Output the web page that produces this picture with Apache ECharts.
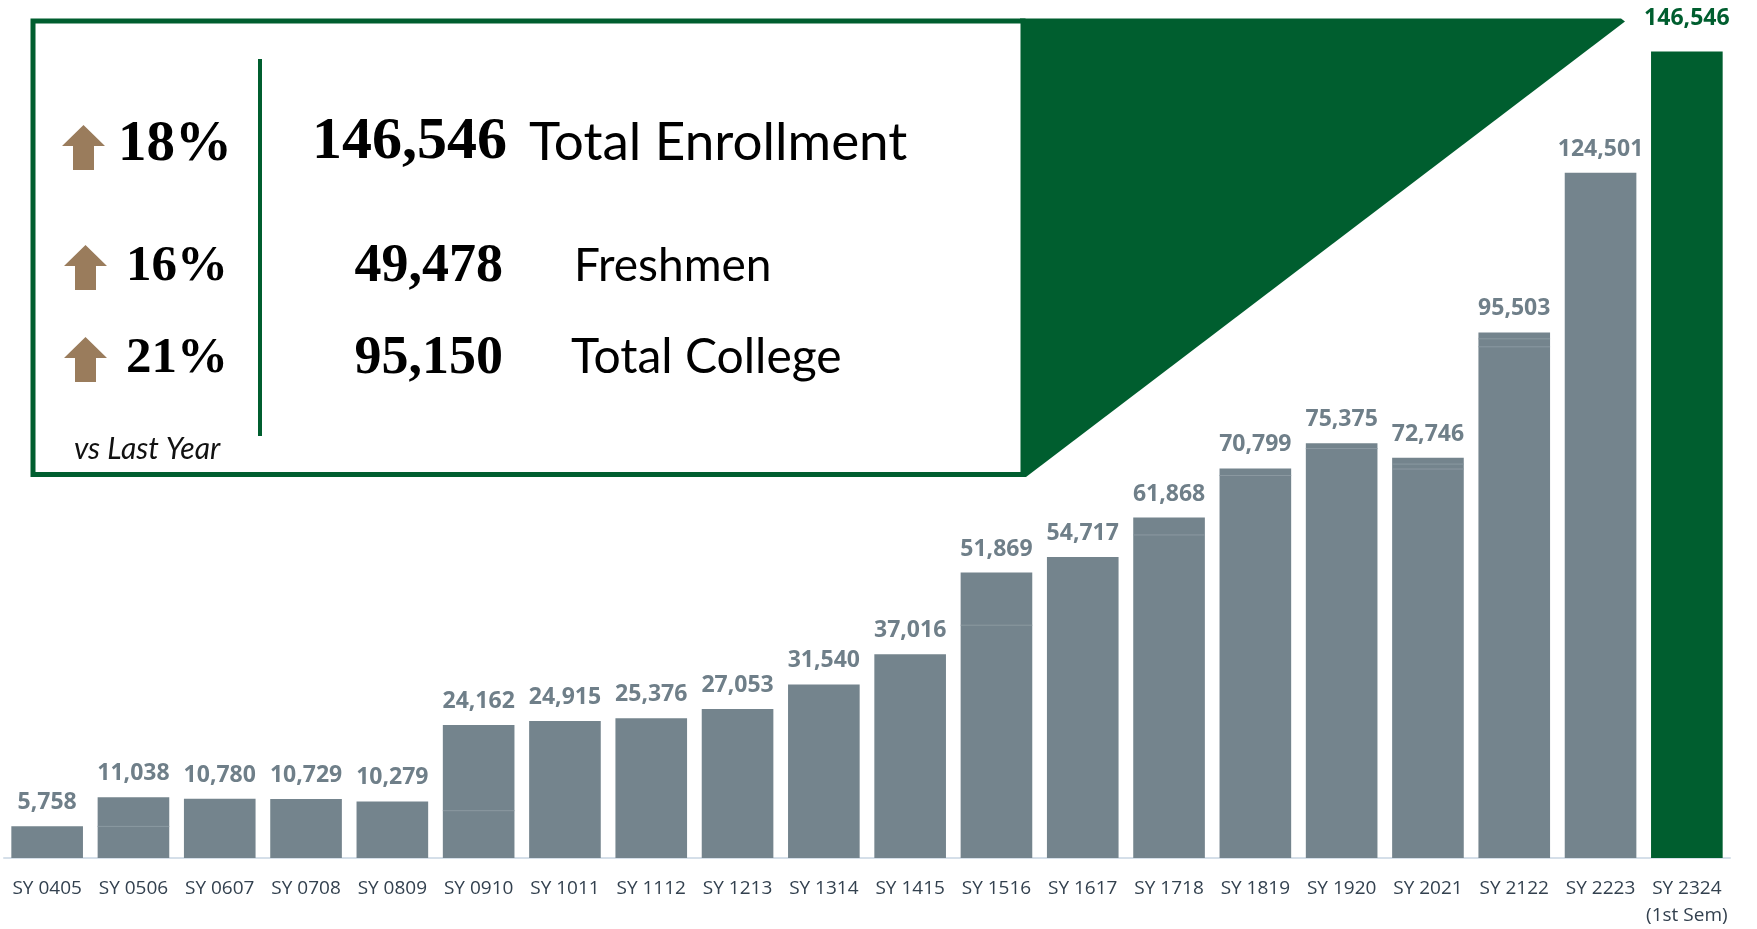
<!DOCTYPE html>
<html>
<head>
<meta charset="utf-8">
<title>Enrollment</title>
<script src="https://cdn.jsdelivr.net/npm/echarts@6/dist/echarts.min.js"></script>
<style>
  html, body { margin: 0; padding: 0; background: #fff; }
  #main { width: 1757px; height: 929px; }
</style>
</head>
<body>
<div id="main"></div>
<script>
// school years on the x axis
var years = ['SY 0405', 'SY 0506', 'SY 0607', 'SY 0708', 'SY 0809', 'SY 0910', 'SY 1011',
  'SY 1112', 'SY 1213', 'SY 1314', 'SY 1415', 'SY 1516', 'SY 1617', 'SY 1718', 'SY 1819',
  'SY 1920', 'SY 2021', 'SY 2122', 'SY 2223', 'SY 2324\n(1st Sem)'];
// total enrollment per year
var enrollment = [5758, 11038, 10780, 10729, 10279, 24162, 24915, 25376, 27053, 31540,
  37016, 51869, 54717, 61868, 70799, 75375, 72746, 95503, 124501, 146546];
// faint segment seams visible inside some bars: [year index, value]
var seams = [[1, 5740], [5, 8600], [11, 42300], [13, 58700], [14, 69500], [15, 74400],
  [16, 71580], [16, 70680], [17, 94340], [17, 92890]];

// summary box
var changePct = ['18%', '16%', '21%'];
var summaryNums = ['146,546', '49,478', '95,150'];
var summaryNames = ['Total Enrollment', 'Freshmen', 'Total College'];
var compareNote = 'vs Last Year';

var GRAY = '#74848d';
var GREEN = '#005e2f';
var BROWN = '#9a7c5c';

var chart = echarts.init(document.getElementById('main'));

// last bar is the current year, highlighted green
var barData = enrollment.map(function (v, i) {
  if (i == enrollment.length - 1) {
    return { value: v, itemStyle: { color: GREEN }, label: { color: GREEN, distance: 22 } };
  }
  return v;
});

// up arrow shape, cx = centre, top = tip y
function arrow(cx, top) {
  var w = 43, h = 45, sw = 21, hh = 21;
  return {
    type: 'polygon',
    shape: {
      points: [
        [cx, top], [cx + w / 2, top + hh], [cx + sw / 2, top + hh], [cx + sw / 2, top + h],
        [cx - sw / 2, top + h], [cx - sw / 2, top + hh], [cx - w / 2, top + hh]
      ]
    },
    style: { fill: BROWN }
  };
}

// row layout inside the box (y = middle of text)
var rows = [
  { y: 142.5, pctY: 145.5, nameY: 142.5, arrowX: 83.5, arrowTop: 125, pctX: 118, numX: 507, nameX: 529,
    pctSize: 57, numSize: 60, nameSize: 53 },
  { y: 267, pctY: 267, nameY: 266, arrowX: 85.5, arrowTop: 245, pctX: 126, numX: 503, nameX: 574,
    pctSize: 51, numSize: 54, nameSize: 46 },
  { y: 359.5, pctY: 359, nameY: 358, arrowX: 85.5, arrowTop: 337, pctX: 126, numX: 503, nameX: 571,
    pctSize: 51, numSize: 54, nameSize: 48 }
];

var graphics = [
  {
    type: 'polygon',
    shape: { points: [[1020, 18.5], [1621, 18.5], [1625, 21.5], [1026, 477], [1020, 477]] },
    style: { fill: GREEN }
  },
  {
    type: 'rect',
    shape: { x: 33, y: 21, width: 990, height: 453.5 },
    style: { fill: '#fff', stroke: GREEN, lineWidth: 5 }
  },
  {
    type: 'line',
    shape: { x1: 260, y1: 59, x2: 260, y2: 436 },
    style: { stroke: GREEN, lineWidth: 4 }
  },
  {
    type: 'text',
    x: 74, y: 449,
    style: {
      text: compareNote, fill: '#111', font: 'italic 30px Lato',
      align: 'left', verticalAlign: 'middle'
    }
  }
];

rows.forEach(function (r, i) {
  graphics.push(arrow(r.arrowX, r.arrowTop));
  graphics.push({
    type: 'text', x: r.pctX, y: r.pctY,
    style: {
      text: changePct[i], fill: '#000',
      font: 'bold ' + r.pctSize + 'px "Liberation Serif"',
      align: 'left', verticalAlign: 'middle'
    }
  });
  graphics.push({
    type: 'text', x: r.numX, y: r.y,
    style: {
      text: summaryNums[i], fill: '#000',
      font: 'bold ' + r.numSize + 'px "Liberation Serif"',
      align: 'right', verticalAlign: 'middle'
    }
  });
  graphics.push({
    type: 'text', x: r.nameX, y: r.nameY,
    style: {
      text: summaryNames[i], fill: '#000',
      font: r.nameSize + 'px Lato',
      align: 'left', verticalAlign: 'middle'
    }
  });
});

chart.setOption({
  animation: false,
  grid: { left: 4, right: 27, top: 5, bottom: 68 },
  xAxis: {
    type: 'category',
    data: years,
    axisTick: { show: false },
    axisLine: { lineStyle: { color: '#d5dfe9', width: 2 } },
    axisLabel: {
      interval: 0,
      margin: 17,
      color: '#33414f',
      fontFamily: 'Open Sans',
      fontSize: 19,
      lineHeight: 27
    }
  },
  yAxis: {
    type: 'value',
    min: 0,
    max: 155000,
    show: false,
    splitLine: { show: false }
  },
  series: [{
    type: 'bar',
    data: barData,
    barCategoryGap: '17%',
    itemStyle: { color: GRAY },
    label: {
      show: true,
      position: 'top',
      distance: 12,
      color: '#6f7f89',
      fontFamily: 'Open Sans',
      fontWeight: 'bold',
      fontSize: 23,
      formatter: function (p) { return p.value.toLocaleString('en-US'); }
    }
  }, {
    // thin lighter seams across the bars
    type: 'custom',
    data: seams,
    silent: true,
    z: 3,
    renderItem: function (params, api) {
      var pt = api.coord([api.value(0), api.value(1)]);
      var half = api.size([1, 0])[0] * 0.83 / 2;
      return {
        type: 'line',
        shape: { x1: pt[0] - half, y1: pt[1], x2: pt[0] + half, y2: pt[1] },
        style: { stroke: '#8b99a1', lineWidth: 1 }
      };
    }
  }],
  graphic: graphics
});
</script>
</body>
</html>
